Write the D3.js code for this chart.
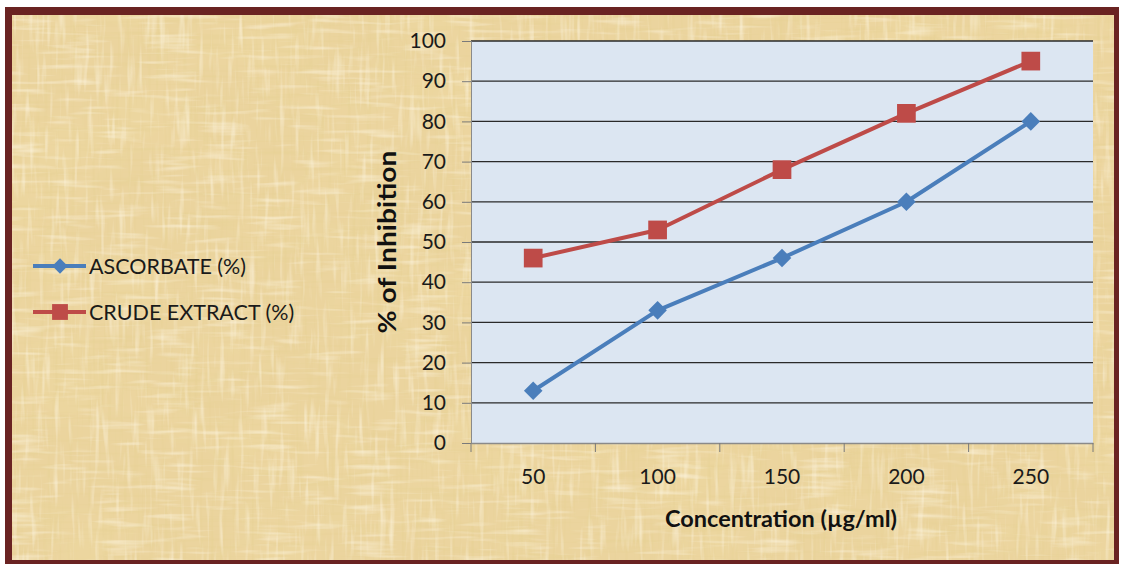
<!DOCTYPE html>
<html>
<head>
<meta charset="utf-8">
<script src="https://cdn.jsdelivr.net/npm/d3@7"></script>
<style>
  body { margin: 0; background: #ffffff; }
  svg { display: block; }
</style>
</head>
<body>
<script>
// Concentration categories (µg/ml) and % inhibition for each sample
const concentrations = ["50", "100", "150", "200", "250"];
const ascorbate = [13, 33, 46, 60, 80];
const crudeExtract = [46, 53, 68, 82, 95];
const yTickValues = [0, 10, 20, 30, 40, 50, 60, 70, 80, 90, 100];
const seriesNames = ["ASCORBATE (%)", "CRUDE EXTRACT (%)"];
const seriesColors = ["#4a7ebb", "#be4b48"];

const W = 1121, H = 565;
const plot = { left: 471, right: 1093, top: 41, bottom: 443 };
const FONT = "Lato, 'Open Sans', sans-serif";

const svg = d3.select("body").append("svg")
  .attr("width", W).attr("height", H);

const defs = svg.append("defs");

// Parchment fibres: vertical and horizontal streaks plus soft blotches
function fibreFilter(id, freq, seed, matrix) {
  const f = defs.append("filter").attr("id", id)
    .attr("x", 0).attr("y", 0).attr("width", "100%").attr("height", "100%");
  f.append("feTurbulence").attr("type", "fractalNoise")
    .attr("baseFrequency", freq).attr("numOctaves", 2).attr("seed", seed);
  f.append("feColorMatrix").attr("type", "matrix").attr("values", matrix);
}
fibreFilter("fibV", "0.25 0.012", 4,
  "0 0 0 0 0.80  0 0 0 0 0.64  0 0 0 0 0.30  1.7 0 0 0 -0.86");
fibreFilter("fibH", "0.012 0.25", 9,
  "0 0 0 0 0.80  0 0 0 0 0.64  0 0 0 0 0.30  1.7 0 0 0 -0.86");
fibreFilter("fibL", "0.2 0.02", 21,
  "0 0 0 0 0.99  0 0 0 0 0.93  0 0 0 0 0.78  1.5 0 0 0 -0.80");
fibreFilter("fibL2", "0.02 0.2", 33,
  "0 0 0 0 0.99  0 0 0 0 0.93  0 0 0 0 0.78  1.5 0 0 0 -0.80");
fibreFilter("blot", "0.008 0.012", 7,
  "0 0 0 0 0.86  0 0 0 0 0.70  0 0 0 0 0.36  1.4 0 0 0 -0.62");

// Frame
svg.append("rect").attr("x", 5).attr("y", 7).attr("width", 1114).attr("height", 557)
  .attr("fill", "#6a2322");
const inner = { x: 12, y: 15, w: 1102, h: 545 };
svg.append("rect").attr("x", inner.x).attr("y", inner.y)
  .attr("width", inner.w).attr("height", inner.h).attr("fill", "#ebd49e");
["blot", "fibV", "fibH", "fibL", "fibL2"].forEach(id => {
  svg.append("rect").attr("x", inner.x).attr("y", inner.y)
    .attr("width", inner.w).attr("height", inner.h)
    .attr("filter", `url(#${id})`);
});

// Scales
const x = d3.scaleBand().domain(concentrations).range([plot.left, plot.right]);
const y = d3.scaleLinear().domain([0, 100]).range([plot.bottom, plot.top]);
const cx = d => x(d) + x.bandwidth() / 2;

// Plot area
svg.append("rect")
  .attr("x", plot.left).attr("y", plot.top)
  .attr("width", plot.right - plot.left).attr("height", plot.bottom - plot.top)
  .attr("fill", "#dce6f2");

// Horizontal gridlines
svg.append("g").selectAll("line")
  .data(yTickValues.filter(v => v > 0))
  .join("line")
  .attr("x1", plot.left).attr("x2", plot.right)
  .attr("y1", d => y(d)).attr("y2", d => y(d))
  .attr("stroke", "#2a2a2a").attr("stroke-width", 1.3);

// Y axis
const yAxis = svg.append("g")
  .attr("transform", `translate(${plot.left},0)`)
  .call(d3.axisLeft(y).tickValues(yTickValues).tickSize(9).tickPadding(16));
yAxis.select(".domain").attr("stroke", "#8a8a8a");
yAxis.selectAll(".tick line").attr("stroke", "#7a7a7a");
yAxis.selectAll("text").attr("font-family", FONT).attr("font-size", 21)
  .attr("fill", "#1a1a1a");

// X axis with ticks at category boundaries
const xAxis = svg.append("g")
  .attr("transform", `translate(0,${plot.bottom})`)
  .call(d3.axisBottom(x).tickSize(0).tickPadding(26));
xAxis.select(".domain").attr("stroke", "#8a8a8a").attr("stroke-width", 1.3);
xAxis.selectAll("text").attr("font-family", FONT).attr("font-size", 21)
  .attr("fill", "#1a1a1a");
const boundaries = concentrations.map(d => x(d)).concat([plot.right]);
xAxis.selectAll(".bound").data(boundaries).join("line")
  .attr("class", "bound")
  .attr("x1", d => d).attr("x2", d => d).attr("y1", 0).attr("y2", 9)
  .attr("stroke", "#7a7a7a");

// Axis titles
svg.append("text")
  .attr("transform", `translate(396,${(plot.top + plot.bottom) / 2}) rotate(-90)`)
  .attr("text-anchor", "middle")
  .attr("font-family", FONT).attr("font-weight", "bold").attr("font-size", 25)
  .attr("textLength", 183).attr("lengthAdjust", "spacingAndGlyphs")
  .attr("fill", "#111").text("% of Inhibition");
svg.append("text")
  .attr("x", 781).attr("y", 527)
  .attr("text-anchor", "middle")
  .attr("font-family", FONT).attr("font-weight", "bold").attr("font-size", 23.5)
  .attr("textLength", 232).attr("lengthAdjust", "spacingAndGlyphs")
  .attr("fill", "#111").text("Concentration (µg/ml)");

// Series
const series = [ascorbate, crudeExtract];
const line = d3.line().x((d, i) => cx(concentrations[i])).y(d => y(d));
const diamond = d3.symbol().type(d3.symbolDiamond2).size(220);
const square = d3.symbol().type(d3.symbolSquare).size(350);

series.forEach((vals, s) => {
  svg.append("path").datum(vals)
    .attr("d", line).attr("fill", "none")
    .attr("stroke", seriesColors[s]).attr("stroke-width", 4)
    .attr("stroke-linejoin", "round");
  svg.append("g").selectAll("path").data(vals).join("path")
    .attr("transform", (d, i) => `translate(${cx(concentrations[i])},${y(d)})`)
    .attr("d", s === 0 ? diamond : square)
    .attr("fill", seriesColors[s]);
});

// Legend
const legend = svg.append("g");
seriesNames.forEach((name, s) => {
  const ly = 266 + s * 46;
  legend.append("line").attr("x1", 33).attr("x2", 86).attr("y1", ly).attr("y2", ly)
    .attr("stroke", seriesColors[s]).attr("stroke-width", 4);
  legend.append("path")
    .attr("transform", `translate(60,${ly})`)
    .attr("d", s === 0 ? d3.symbol().type(d3.symbolDiamond2).size(150)
                       : d3.symbol().type(d3.symbolSquare).size(250))
    .attr("fill", seriesColors[s]);
  legend.append("text").attr("x", 89).attr("y", ly).attr("dy", "0.36em")
    .attr("font-family", FONT).attr("font-size", 21.5).attr("fill", "#1a1a1a")
    .text(name);
});
</script>
</body>
</html>
